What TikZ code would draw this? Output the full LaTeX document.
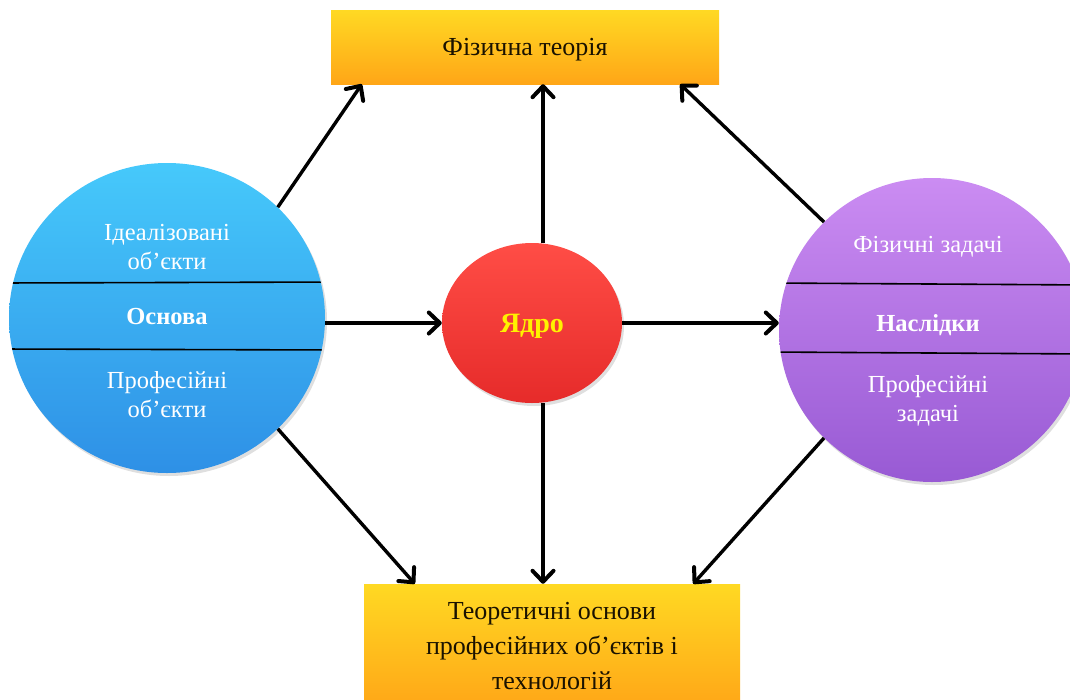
\documentclass[tikz,border=0pt]{standalone}
\usepackage{fontspec}
\setmainfont{Liberation Serif}
\usetikzlibrary{shapes.geometric,arrows.meta,shadows}
\definecolor{yTop}{HTML}{FFD923}
\definecolor{yBot}{HTML}{FFA617}
\definecolor{bTop}{HTML}{46C9FB}
\definecolor{bBot}{HTML}{2E90E6}
\definecolor{pTop}{HTML}{CB8CF2}
\definecolor{pBot}{HTML}{985AD4}
\definecolor{rTop}{HTML}{FF4D46}
\definecolor{rBot}{HTML}{E62B2A}
\definecolor{txtDark}{HTML}{1A1200}
\definecolor{ydro}{HTML}{FFF200}
\begin{document}
\begin{tikzpicture}[x=1pt,y=-1pt,
  ybox/.style={rectangle, inner sep=0pt, top color=yTop, bottom color=yBot, draw=none,
    text=txtDark, align=center, font=\fontsize{26}{35}\selectfont},
  circ/.style={ellipse, inner sep=0pt, draw=none,
    drop shadow={opacity=0.25, shadow xshift=2pt, shadow yshift=-3pt}},
  ctext/.style={text=white, align=center, inner sep=0pt, font=\fontsize{24.5}{29}\selectfont},
  ctextb/.style={text=white, align=center, inner sep=0pt, font=\fontsize{24.5}{29}\selectfont\bfseries},
  divline/.style={line width=1.6pt, draw=black},
  arr/.style={line width=3.4pt, -{Straight Barb[length=11pt,width=21pt,line width=4pt,round]}}
]
\useasboundingbox (0,0) rectangle (1070,699);
\clip (0,0) rectangle (1070,699);

% boxes
\node[ybox, minimum width=388pt, minimum height=74pt, text depth=0pt] (T) at (525,47) {Фізична теорія};
\node[ybox, minimum width=376pt, minimum height=124pt] (B) at (552,646) {Теоретичні основи\\професійних об’єктів і\\технологій};

% circles
\node[circ, top color=bTop, bottom color=bBot, minimum width=316pt, minimum height=310pt] (L) at (167,318) {};
\node[circ, top color=pTop, bottom color=pBot, minimum width=306pt, minimum height=304pt] (R) at (932,330) {};
\node[circ, top color=rTop, bottom color=rBot, minimum width=180pt, minimum height=160pt] (C) at (532,323) {};

% division lines
\begin{scope}
  \clip (167,318) ellipse [x radius=158pt, y radius=155pt];
  \draw[divline] (0,283) -- (340,282);
  \draw[divline] (0,349) -- (340,350);
\end{scope}
\begin{scope}
  \clip (932,330) ellipse [x radius=153pt, y radius=152pt];
  \draw[divline] (770,283) -- (1090,285);
  \draw[divline] (770,352) -- (1090,354);
\end{scope}

% texts
\node[ctext] (L1) at (167,247) {Ідеалізовані\\об’єкти};
\node[ctextb] (L2) at (167,317) {Основа};
\node[ctext] (L3) at (167,395) {Професійні\\об’єкти};
\node[ctext] (R1) at (928,247) {Фізичні задачі};
\node[ctextb] (R2) at (928,325) {Наслідки};
\node[ctext] (R3) at (928,401) {Професійні\\задачі};
\node[text=ydro, inner sep=0pt, font=\fontsize{28}{29}\selectfont\bfseries] (C1) at (532,326) {Ядро};

% arrows
\draw[arr] (L.45) -- ([xshift=31pt]T.south west);
\draw[arr] ([xshift=11pt]C.north) -- ([xshift=18pt]T.south);
\draw[arr] (R.135) -- ([xshift=-39pt]T.south east);
\draw[arr] (L.east |- C.west) -- (C.west);
\draw[arr] (C.east) -- (R.west |- C.east);
\draw[arr] (L.-45) -- ([xshift=51pt]B.north west);
\draw[arr] ([xshift=11pt]C.south) -- ([xshift=-9pt]B.north);
\draw[arr] (R.-135) -- ([xshift=-47pt]B.north east);
\end{tikzpicture}
\end{document}
